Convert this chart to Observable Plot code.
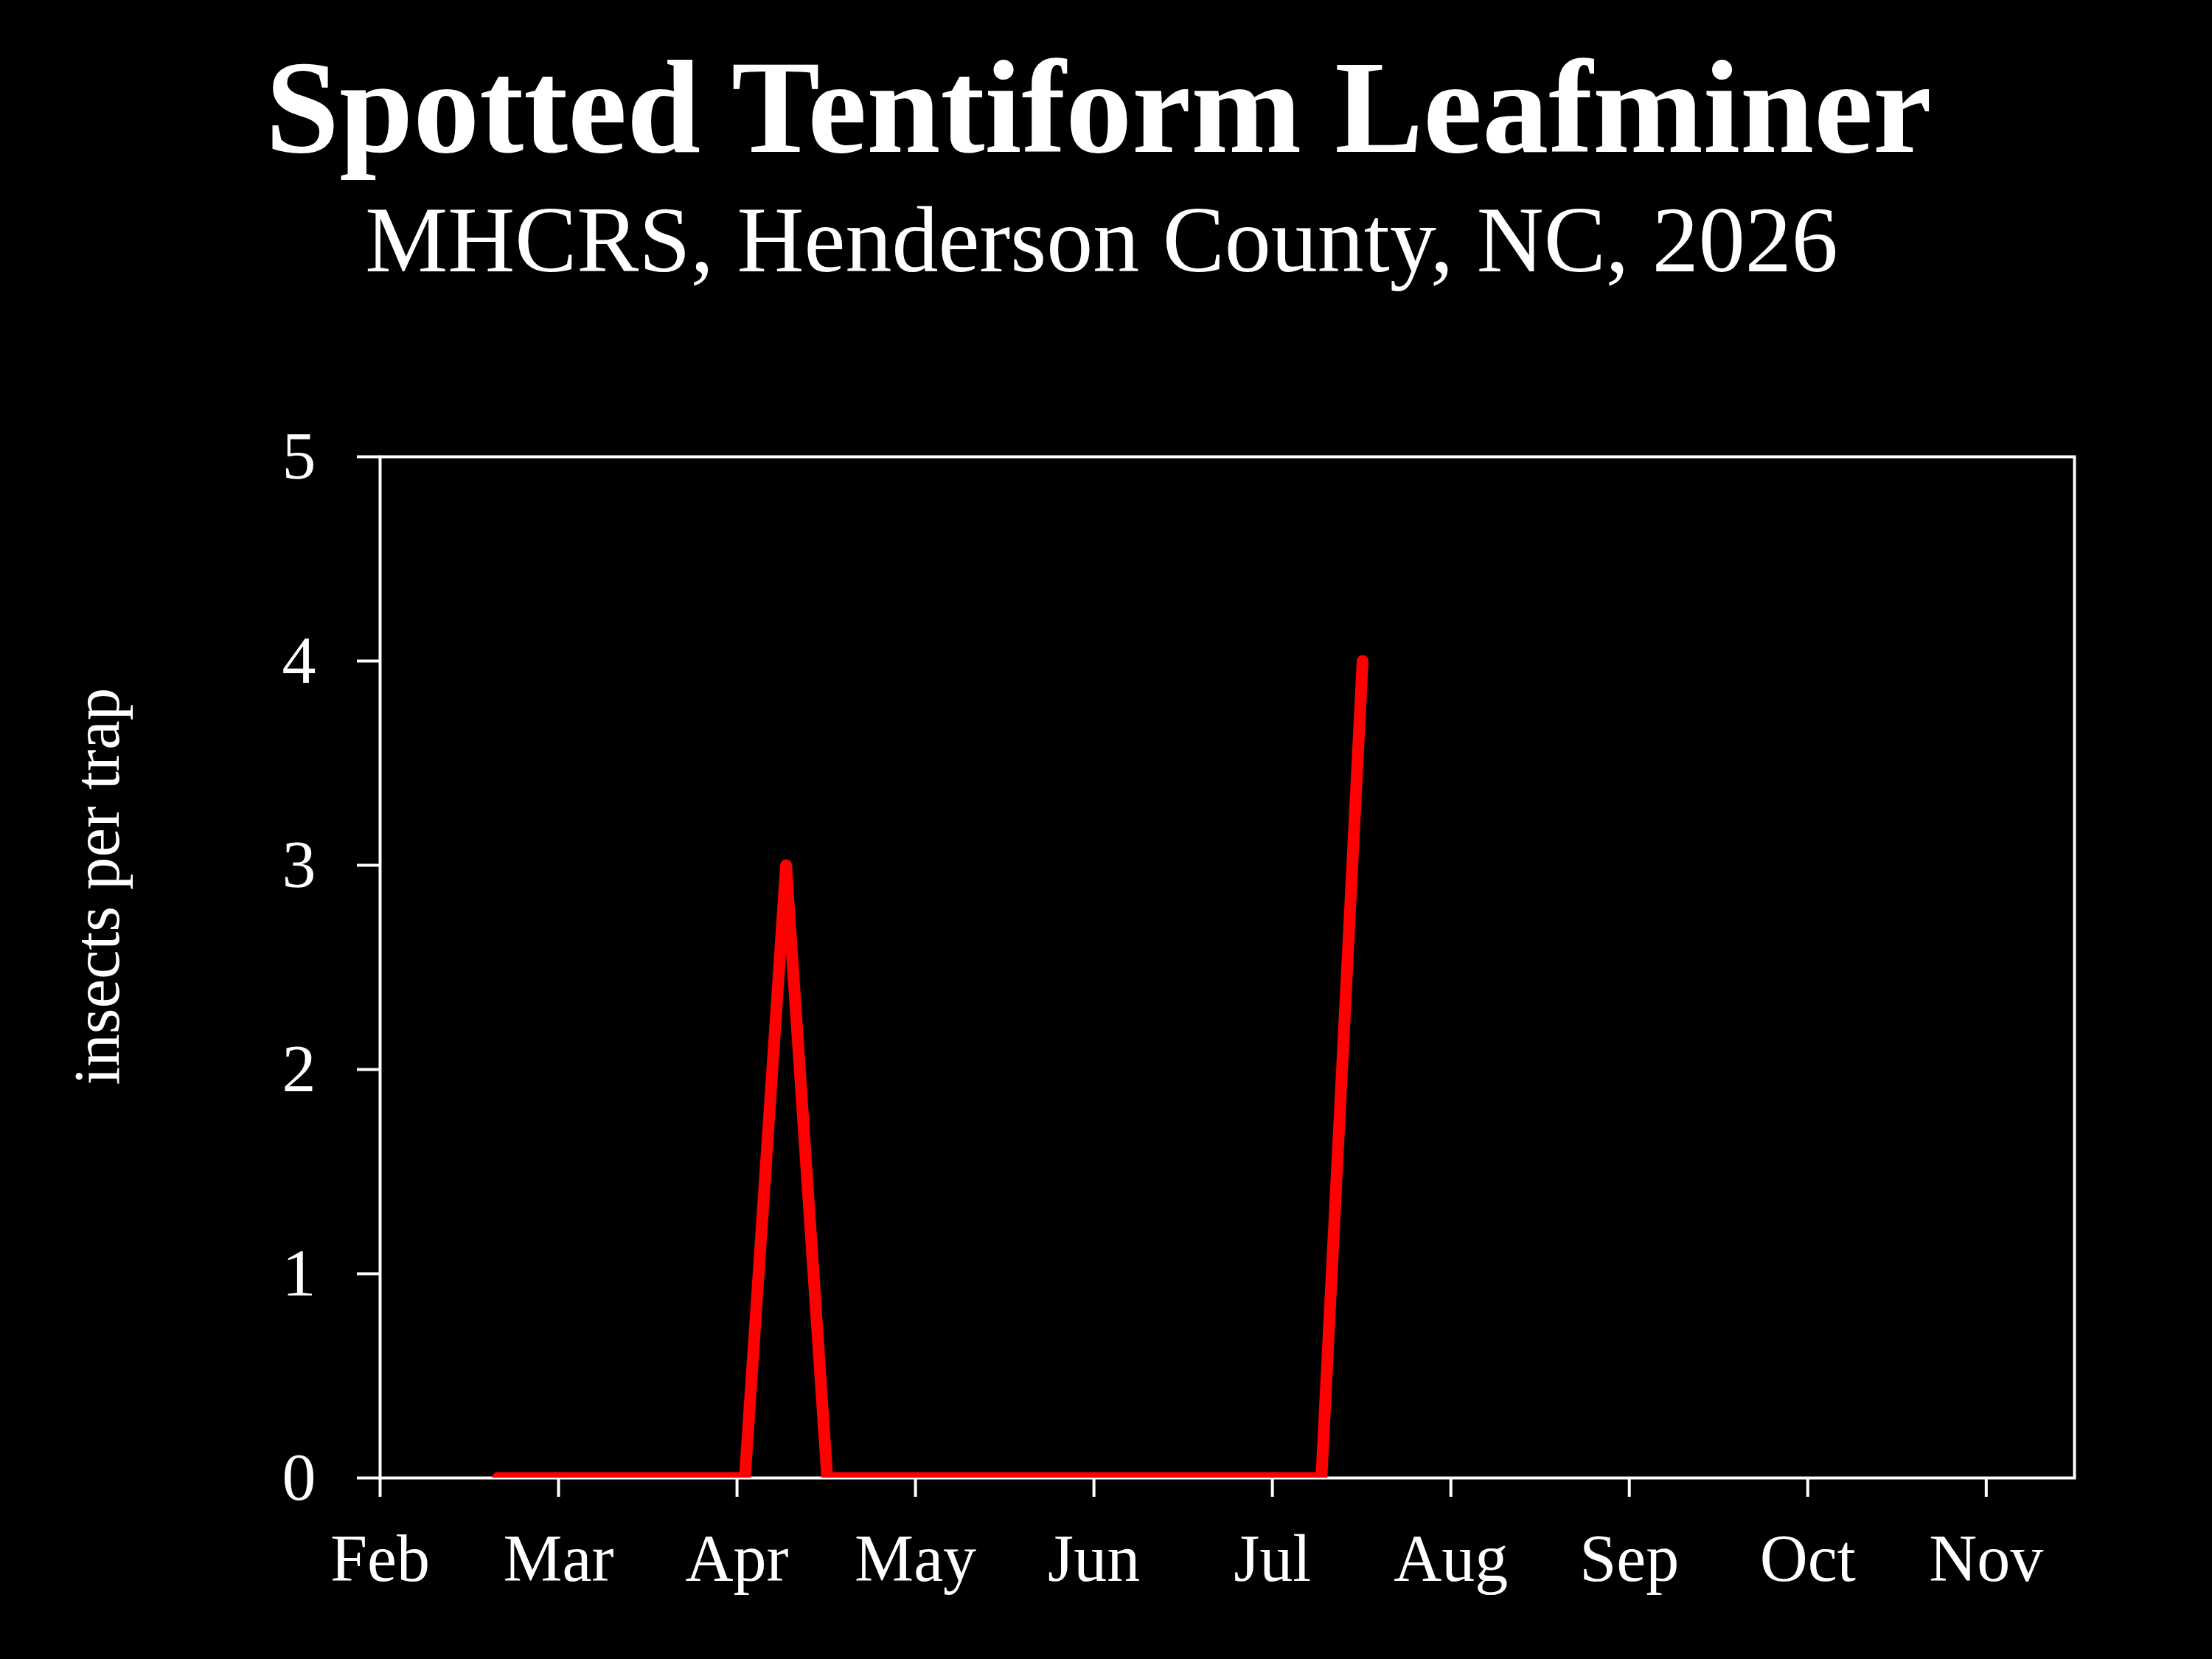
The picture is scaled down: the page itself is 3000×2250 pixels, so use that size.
<!DOCTYPE html>
<html>
<head>
<meta charset="utf-8">
<script src="https://cdn.jsdelivr.net/npm/d3@7"></script>
<script src="https://cdn.jsdelivr.net/npm/@observablehq/plot@0.6"></script>
<style>
  html, body { margin: 0; padding: 0; background: #000; }
  #page { position: relative; width: 3000px; height: 2250px; background: #000; overflow: hidden; }
  #head { position: relative; width: 3000px; height: 460px; }
  .t { position: absolute; width: 3000px; margin: 0; text-align: center; color: #fff;
       font-family: "Liberation Serif", "DejaVu Serif", serif; line-height: 1; white-space: nowrap; }
  #title { top: 56px; left: -10px; font-size: 180px; font-weight: bold; }
  #subtitle { top: 263px; left: -6px; font-size: 126px; font-weight: normal; }
  #chart svg { display: block; }
</style>
</head>
<body>
<div id="page">
  <div id="head">
    <h1 class="t" id="title">Spotted Tentiform Leafminer</h1>
    <h2 class="t" id="subtitle">MHCRS, Henderson County, NC, 2026</h2>
  </div>
  <div id="chart"></div>
</div>
<script>
// Weekly trap counts (sample dates and insects per trap)
const sampleDates = ["2026-02-21","2026-02-28","2026-03-07","2026-03-14","2026-03-21","2026-03-28",
  "2026-04-04","2026-04-11","2026-04-18","2026-04-25","2026-05-02","2026-05-09","2026-05-16",
  "2026-05-23","2026-05-30","2026-06-06","2026-06-13","2026-06-20","2026-06-27","2026-07-04",
  "2026-07-11","2026-07-18"];
const counts = [0,0,0,0,0,0,0,3,0,0,0,0,0,0,0,0,0,0,0,0,0,4];

// Axis ticks
const monthLabels = ["Feb","Mar","Apr","May","Jun","Jul","Aug","Sep","Oct","Nov"];
const monthTickDates = ["2026-02-01T00:00Z","2026-03-03T08:00Z","2026-04-02T16:00Z","2026-05-03T00:00Z",
  "2026-06-02T08:00Z","2026-07-02T16:00Z","2026-08-02T00:00Z","2026-09-01T08:00Z","2026-10-01T16:00Z",
  "2026-11-01T00:00Z"];
const xDomain = ["2026-02-01T00:00Z","2026-11-16T00:00Z"];
const yTicks = [0,1,2,3,4,5];
const yDomain = [0,5];
const yLabel = "insects per trap";

const data = sampleDates.map((d, i) => ({date: new Date(d + "T00:00Z"), count: counts[i]}));
const tickDates = monthTickDates.map(s => new Date(s));
const labelByTime = new Map(tickDates.map((d, i) => [+d, monthLabels[i]]));

const chart = Plot.plot({
  width: 3000,
  height: 1790,
  marginTop: 159,
  marginBottom: 246,
  marginLeft: 515,
  marginRight: 187,
  style: {background: "#000", color: "#fff", fontFamily: "'Liberation Serif', 'DejaVu Serif', serif", fontSize: "90px"},
  x: {type: "utc", domain: xDomain.map(s => new Date(s))},
  y: {domain: yDomain},
  marks: [
    Plot.frame({stroke: "#fff", strokeWidth: 4}),
    Plot.axisX({ticks: tickDates, tickFormat: d => labelByTime.get(+d), tickSize: 26, tickPadding: 50,
      strokeWidth: 4, fontSize: 90, label: null}),
    Plot.axisY({ticks: yTicks, tickFormat: d => String(d), tickSize: 31, tickPadding: 56,
      strokeWidth: 4, fontSize: 92, label: null}),
    Plot.line(data, {x: "date", y: "count", stroke: "#ff0000", strokeWidth: 16,
      strokeLinecap: "round", strokeLinejoin: "round", clip: true}),
    Plot.text([yLabel], {frameAnchor: "left", rotate: -90, dx: -383, dy: -110, fontSize: 89,
      fill: "#fff", text: d => d, textAnchor: "middle", lineAnchor: "middle"})
  ]
});
document.getElementById("chart").appendChild(chart);
</script>
</body>
</html>
